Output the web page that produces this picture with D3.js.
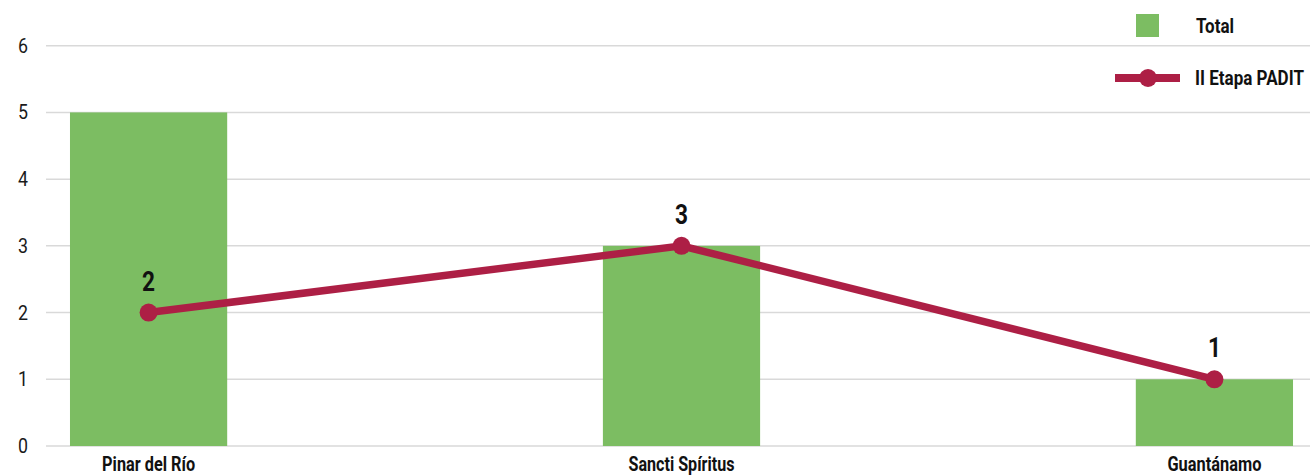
<!DOCTYPE html>
<html>
<head>
<meta charset="utf-8">
<script src="https://cdn.jsdelivr.net/npm/d3@7"></script>
<style>
  html, body { margin: 0; padding: 0; background: #fff; }
  svg { display: block; font-family: Roboto, "Noto Sans", sans-serif; }
</style>
</head>
<body>
<svg id="chart" width="1310" height="476"></svg>
<script>
const categories = ["Pinar del Río", "Sancti Spíritus", "Guantánamo"];
const totalValues = [5, 3, 1];
const padiValues = [2, 3, 1];
const yTicks = [0, 1, 2, 3, 4, 5, 6];
const seriesNames = ["Total", "II Etapa PADIT"];

const green = "#7cbd62";
const red = "#ad1f45";

const svg = d3.select("#chart");

const x = d3.scaleBand()
  .domain(categories)
  .range([46, 1317])
  .paddingInner(0.705)
  .paddingOuter(0.045);

const y = d3.scaleLinear().domain([0, 6]).range([446, 45.7]);

// squeeze a text horizontally to a target width via transform
function squeeze(sel, px, py, w) {
  const node = sel.node();
  const natural = node.getComputedTextLength();
  const sx = Math.min(1, w / natural);
  sel.attr("x", 0).attr("y", 0)
     .attr("transform", `translate(${px},${py}) scale(${sx},1)`);
}

// gridlines
svg.append("g")
  .selectAll("line")
  .data(yTicks)
  .join("line")
  .attr("x1", 46).attr("x2", 1317)
  .attr("y1", d => y(d)).attr("y2", d => y(d))
  .attr("stroke", "#d9d9d9")
  .attr("stroke-width", 1.5);

// y tick labels
svg.append("g")
  .selectAll("text")
  .data(yTicks)
  .join("text")
  .attr("x", 28)
  .attr("y", d => y(d) + 7)
  .attr("text-anchor", "end")
  .attr("font-size", 20)
  .attr("fill", "#1a1a1a")
  .attr("textLength", 10)
  .attr("lengthAdjust", "spacingAndGlyphs")
  .text(d => d);

// bars
svg.append("g")
  .selectAll("rect")
  .data(categories)
  .join("rect")
  .attr("x", d => x(d))
  .attr("width", x.bandwidth())
  .attr("y", (d, i) => y(totalValues[i]))
  .attr("height", (d, i) => y(0) - y(totalValues[i]))
  .attr("fill", green);

// category labels
const catWidths = [93, 106, 94];
svg.append("g")
  .selectAll("text")
  .data(categories)
  .join("text")
  .attr("x", d => x(d) + x.bandwidth() / 2)
  .attr("y", 471)
  .attr("text-anchor", "middle")
  .attr("font-size", 20)
  .attr("font-weight", "bold")
  .attr("fill", "#111")
  .attr("textLength", (d, i) => catWidths[i])
  .attr("lengthAdjust", "spacingAndGlyphs")
  .text(d => d);

// line
const pts = categories.map((c, i) => [x(c) + x.bandwidth() / 2, y(padiValues[i])]);
svg.append("path")
  .attr("d", d3.line()(pts))
  .attr("fill", "none")
  .attr("stroke", red)
  .attr("stroke-width", 7.5)
  .attr("stroke-linejoin", "round");

svg.append("g")
  .selectAll("circle")
  .data(pts)
  .join("circle")
  .attr("cx", d => d[0]).attr("cy", d => d[1])
  .attr("r", 9)
  .attr("fill", red);

// data labels
svg.append("g")
  .selectAll("text")
  .data(pts)
  .join("text")
  .attr("x", d => d[0])
  .attr("y", d => d[1] - 22)
  .attr("text-anchor", "middle")
  .attr("font-size", 28)
  .attr("font-weight", "bold")
  .attr("fill", "#111")
  .attr("textLength", 13)
  .attr("lengthAdjust", "spacingAndGlyphs")
  .text((d, i) => padiValues[i]);

// legend
const lg = svg.append("g");
lg.append("rect")
  .attr("x", 1136).attr("y", 14).attr("width", 23).attr("height", 23)
  .attr("fill", green);
lg.append("text")
  .attr("font-size", 21).attr("font-weight", "bold").attr("fill", "#111")
  .text(seriesNames[0])
  .call(squeeze, 1196, 33, 38);
lg.append("line")
  .attr("x1", 1115).attr("x2", 1180).attr("y1", 78).attr("y2", 78)
  .attr("stroke", red).attr("stroke-width", 8);
lg.append("circle")
  .attr("cx", 1148).attr("cy", 78).attr("r", 9).attr("fill", red);
lg.append("text")
  .attr("font-size", 21).attr("font-weight", "bold").attr("fill", "#111")
  .text(seriesNames[1])
  .call(squeeze, 1195, 85, 109);
</script>
</body>
</html>
